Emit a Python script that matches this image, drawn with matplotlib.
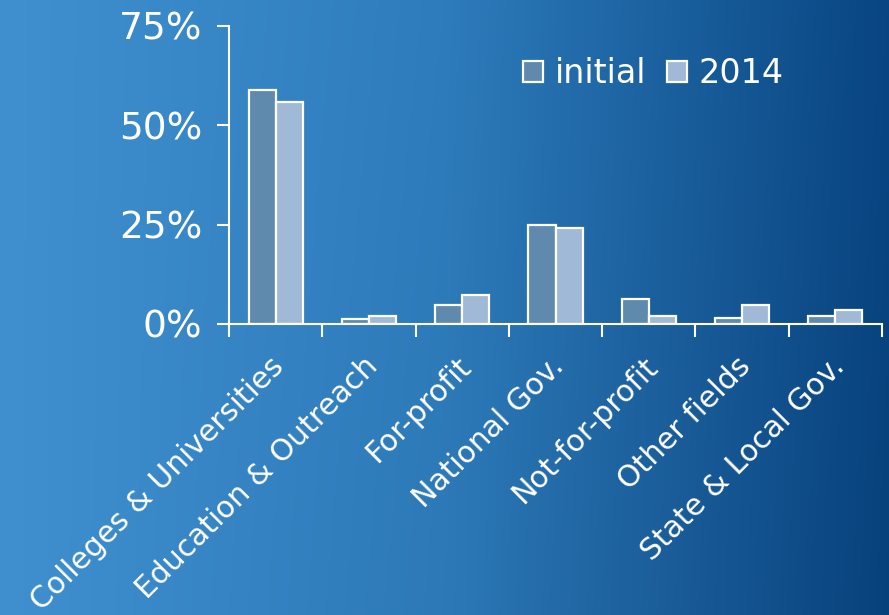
import numpy as np
import matplotlib
matplotlib.use("Agg")
import matplotlib.pyplot as plt
from matplotlib.patches import Patch
from matplotlib.transforms import ScaledTranslation

categories = ["Colleges & Universities", "Education & Outreach", "For-profit",
              "National Gov.", "Not-for-profit", "Other fields", "State & Local Gov."]
initial = [59.0, 1.2, 4.9, 24.8, 6.3, 1.5, 2.1]
y2014 = [55.8, 2.1, 7.4, 24.2, 1.9, 4.7, 3.6]
yticks = [0, 25, 50, 75]
ytick_labels = ["0%", "25%", "50%", "75%"]
series_names = ["initial", "2014"]

plt.rcParams['font.family'] = ['DejaVu Sans']

fig = plt.figure(figsize=(8.89, 6.15), dpi=100)

# background gradient
bg = fig.add_axes([0, 0, 1, 1], zorder=-10)
bg.axis('off')
W, H = 300, 200
xs = np.linspace(0, 1, W)
ys = np.linspace(0, 1, H)
X, Y = np.meshgrid(xs, ys)
c_left = np.array([0x40, 0x90, 0xd0]) / 255
c_mid = np.array([0x2e, 0x7c, 0xbc]) / 255
c_right = np.array([0x08, 0x45, 0x82]) / 255
t = X
img = np.zeros((H, W, 3))
for k in range(3):
    a = np.where(t < 0.5, c_left[k] + (c_mid[k] - c_left[k]) * (t / 0.5),
                 c_mid[k] + (c_right[k] - c_mid[k]) * ((t - 0.5) / 0.5))
    img[:, :, k] = a * (1 - 0.05 * Y * X)
bg.imshow(np.clip(img, 0, 1), aspect='auto', extent=[0, 1, 0, 1], origin='upper')
bg.set_xlim(0, 1)
bg.set_ylim(0, 1)

ax = fig.add_axes([229/889, 1 - 324/615, (882 - 229)/889, (324 - 26)/615])
ax.patch.set_alpha(0)

n = len(categories)
pos = np.arange(n) + 0.5
w = 0.29
col_init = '#5f89ad'
col_2014 = '#a0b9d6'
ax.bar(pos - w/2, initial, w, color=col_init, edgecolor='white', linewidth=1.6, label=series_names[0])
ax.bar(pos + w/2, y2014, w, color=col_2014, edgecolor='white', linewidth=1.6, label=series_names[1])

ax.set_xlim(0, n)
ax.set_ylim(0, 75)
for s in ['top', 'right']:
    ax.spines[s].set_visible(False)
for s in ['left', 'bottom']:
    ax.spines[s].set_color('white')
    ax.spines[s].set_linewidth(1.5)

ax.set_yticks(yticks)
ax.set_yticklabels(ytick_labels)
ax.tick_params(axis='y', colors='white', labelsize=27, length=9, width=1.5, pad=10)

ax.set_xticks(np.arange(n + 1))
ax.set_xticklabels([])
ax.tick_params(axis='x', which='major', colors='white', length=9, width=1.5)
ax.set_xticks(pos, minor=True)
ax.set_xticklabels(categories, minor=True, rotation=45, ha='right', va='top',
                   rotation_mode='anchor', fontsize=21.5, color='white')
ax.tick_params(axis='x', which='minor', length=0, pad=20)
off = ScaledTranslation(-6/100, 0, fig.dpi_scale_trans)
for lab in ax.get_xticklabels(minor=True):
    lab.set_transform(lab.get_transform() + off)

handles = [Patch(facecolor=col_init, edgecolor='white', linewidth=1.6),
           Patch(facecolor=col_2014, edgecolor='white', linewidth=1.6)]
leg = ax.legend(handles, series_names, loc='upper right', bbox_to_anchor=(0.895, 0.995),
                ncol=2, frameon=False, fontsize=24, handlelength=0.6, handleheight=0.6,
                handletextpad=0.35, columnspacing=0.6, labelcolor='white')

fig.savefig('out.png', dpi=100)
